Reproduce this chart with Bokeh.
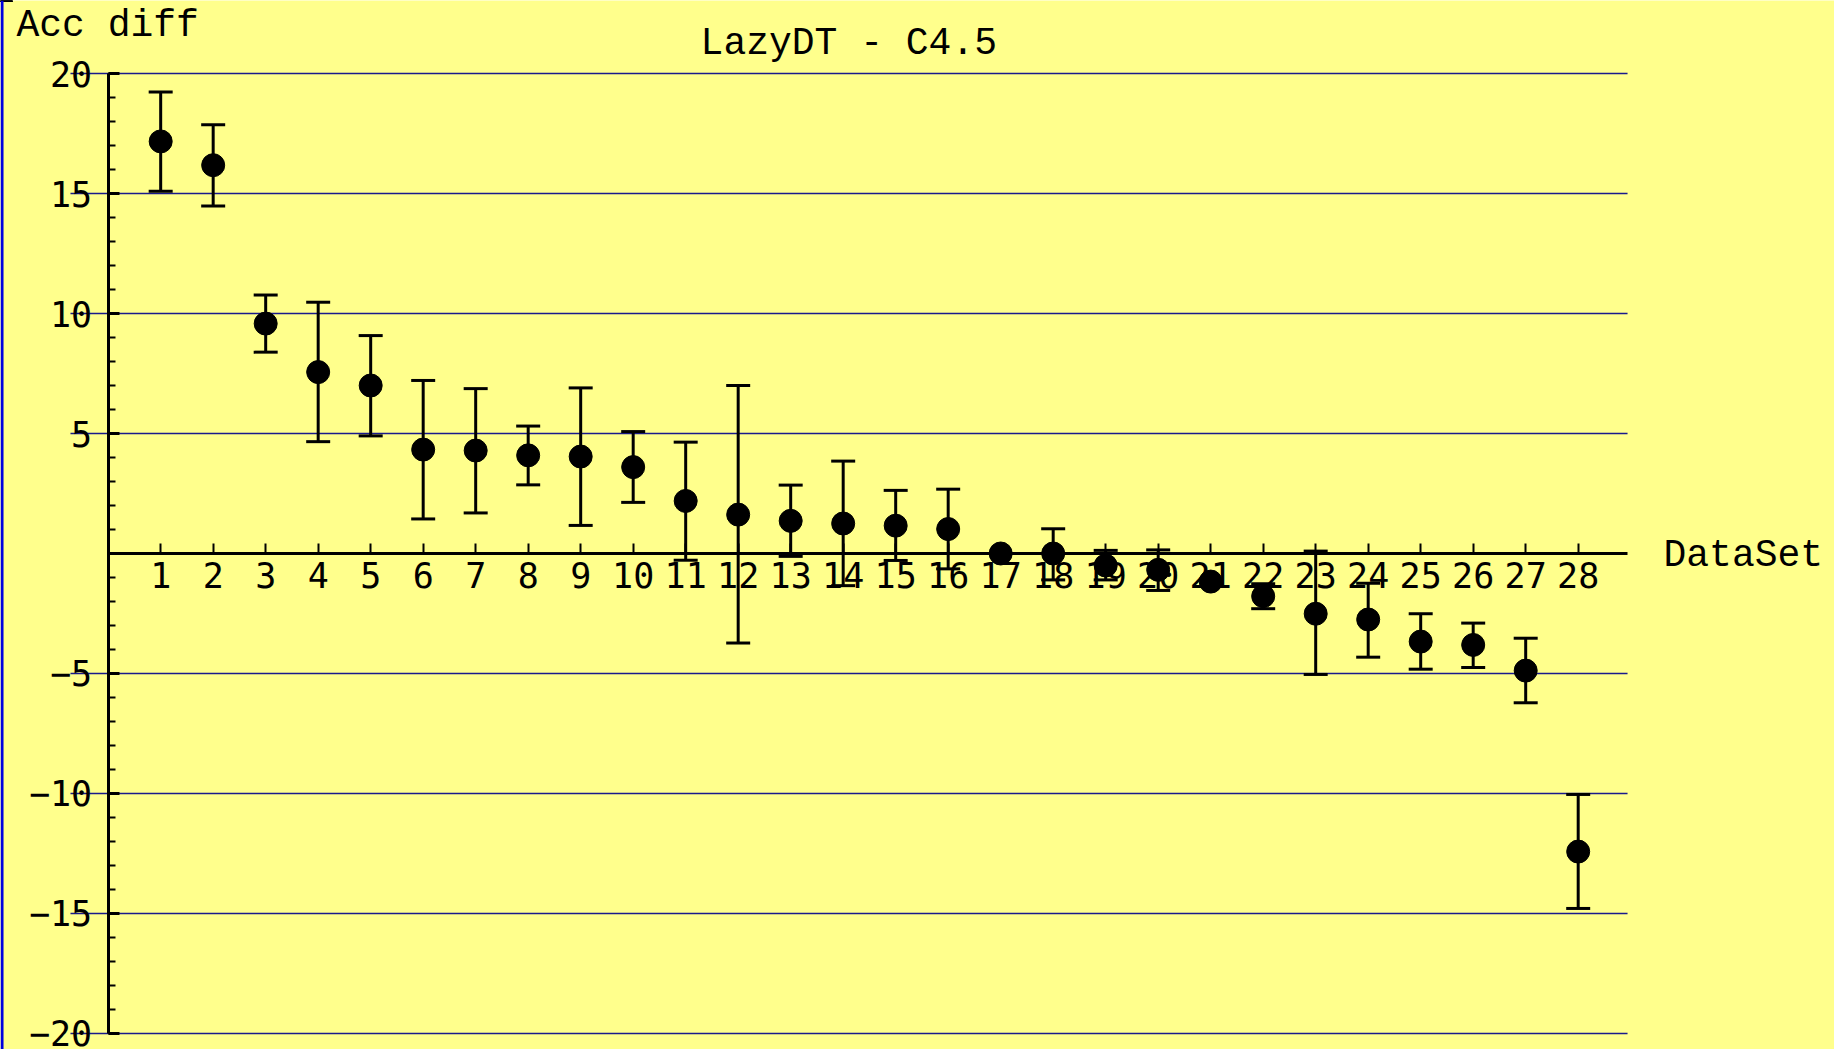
from bokeh.plotting import figure
from bokeh.models import (ColumnDataSource, Range1d, LinearAxis, FixedTicker,
                          Whisker, TeeHead, Label, Span)
from bokeh.embed import file_html
from bokeh.resources import INLINE

NaN = float("nan")

# ---- data ----
datasets = [1, 2, 3, 4, 5, 6, 7, 8, 9, 10, 11, 12, 13, 14,
            15, 16, 17, 18, 19, 20, 21, 22, 23, 24, 25, 26, 27, 28]
acc_diff = [17.17, 16.18, 9.58, 7.56, 7.00, 4.33, 4.29, 4.09, 4.04, 3.60,
            2.19, 1.62, 1.36, 1.25, 1.16, 1.02, 0.00, 0.00, -0.50, -0.68,
            -1.17, -1.78, -2.51, -2.75, -3.67, -3.81, -4.88, -12.42]
err_upper = [19.23, 17.87, 10.77, 10.47, 9.08, 7.21, 6.87, 5.31, 6.90, 5.08,
             4.64, 7.00, 2.85, 3.85, 2.63, 2.68, NaN, 1.03, 0.13, 0.15,
             NaN, -1.26, 0.10, -1.24, -2.51, -2.90, -3.53, -10.04]
err_lower = [15.09, 14.48, 8.39, 4.66, 4.90, 1.44, 1.69, 2.86, 1.17, 2.13,
             -0.28, -3.73, -0.12, -1.34, -0.29, -0.64, NaN, -1.10, -1.10, -1.54,
             NaN, -2.30, -5.04, -4.32, -4.82, -4.75, -6.22, -14.79]
y_ticks = [-20, -15, -10, -5, 5, 10, 15, 20]
y_tick_labels = ["\u221220", "\u221215", "\u221210", "\u22125", "5", "10", "15", "20"]
y_minor = [v for v in range(-20, 21)]

title_text = "LazyDT - C4.5"
y_label_text = "Acc diff"
x_label_text = "DataSet"

BG = "#FFFF8C"
GRID = "#1A1A8C"

src = ColumnDataSource(dict(x=datasets, y=acc_diff, upper=err_upper, lower=err_lower))

p = figure(width=1834, height=1049,
           x_range=Range1d(-2.051, 32.882), y_range=Range1d(-20.667, 23.042),
           x_axis_type=None, y_axis_type=None,
           toolbar_location=None, output_backend="svg",
           min_border=0, background_fill_color=BG, border_fill_color=BG,
           outline_line_color=None)

# horizontal grid lines
p.segment(x0=[-0.718] * len(y_ticks), x1=[28.94] * len(y_ticks),
          y0=y_ticks, y1=y_ticks, line_color=GRID, line_width=1.6, level="underlay")

# left blue border
p.add_layout(Span(location=-2.022, dimension="height", line_color="#0000DD", line_width=3))

# error bars
wh = Whisker(source=src, base="x", upper="upper", lower="lower",
             line_color="black", line_width=3, level="glyph",
             upper_head=TeeHead(size=24, line_color="black", line_width=3),
             lower_head=TeeHead(size=24, line_color="black", line_width=3))
p.add_layout(wh)

# points
p.scatter("x", "y", source=src, size=23, color="black")

# axes crossing at the origin
xaxis = LinearAxis(fixed_location=0, ticker=FixedTicker(ticks=datasets, minor_ticks=[]),
                   bounds=(0, 28.94),
                   axis_line_color="black", axis_line_width=3,
                   major_tick_in=10, major_tick_out=0, major_tick_line_width=2,
                   major_tick_line_color="black", minor_tick_line_color=None,
                   major_label_text_font="DejaVu Sans Mono",
                   major_label_text_font_size="35px",
                   major_label_text_color="black",
                   major_label_standoff=9)
p.add_layout(xaxis, "below")

yaxis = LinearAxis(fixed_location=0, ticker=FixedTicker(ticks=y_ticks, minor_ticks=y_minor),
                   bounds=(-20, 20),
                   major_label_overrides={t: l for t, l in zip(y_ticks, y_tick_labels)},
                   axis_line_color="black", axis_line_width=3,
                   major_tick_in=11, major_tick_out=0, major_tick_line_width=3,
                   minor_tick_in=7, minor_tick_out=0, minor_tick_line_width=2,
                   major_tick_line_color="black", minor_tick_line_color="black",
                   major_label_text_font="DejaVu Sans Mono",
                   major_label_text_font_size="35px",
                   major_label_text_color="black",
                   major_label_standoff=16)
p.add_layout(yaxis, "left")

# texts
p.add_layout(Label(x=-1.747, y=21.98, text=y_label_text, text_font="Liberation Mono",
                   text_font_size="38px", text_color="black", text_align="left",
                   text_baseline="alphabetic"))
p.add_layout(Label(x=14.107, y=21.26, text=title_text, text_font="Liberation Mono",
                   text_font_size="38px", text_color="black", text_align="center",
                   text_baseline="alphabetic"))
p.add_layout(Label(x=29.625, y=-0.093, text=x_label_text, text_font="Liberation Mono",
                   text_font_size="38px", text_color="black", text_align="left",
                   text_baseline="alphabetic"))

open("out.html", "w").write(file_html(p, INLINE))
